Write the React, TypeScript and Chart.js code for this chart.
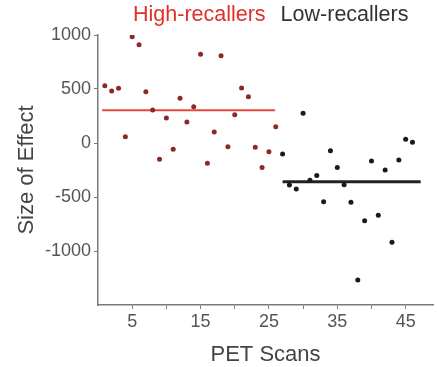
import React, { useEffect, useRef } from "react";
import { Chart, registerables } from "chart.js";

Chart.register(...registerables);

const HIGH_LABEL = "High-recallers";
const LOW_LABEL = "Low-recallers";

const HIGH_X = [1, 2, 3, 4, 5, 6, 7, 8, 9, 10, 11, 12, 13, 14, 15, 16, 17, 18, 19, 20, 21, 22, 23, 24, 25, 26];
const HIGH_Y = [530, 481, 506, 58, 984, 910, 475, 305, -151, 231, -58, 414, 194, 336, 821, -188, 102, 808, -34, 262, 509, 429, -40, -228, -80, 151];

const LOW_X = [27, 28, 29, 30, 31, 32, 33, 34, 35, 36, 37, 38, 39, 40, 41, 42, 43, 44, 45, 46];
const LOW_Y = [-102, -389, -426, 275, -346, -302, -543, -71, -228, -386, -549, -1269, -719, -167, -670, -250, -920, -157, 34, 6];

const HIGH_MEAN = 303;
const LOW_MEAN = -358;
const HIGH_MEAN_SPAN = [0.6, 25.9];
const LOW_MEAN_SPAN = [27, 47.2];

const X_TICKS = [5, 10, 15, 20, 25, 30, 35, 40, 45];
const X_TICK_LABELS = ["5", "", "15", "", "25", "", "35", "", "45"];
const Y_TICKS = [-1000, -500, 0, 500, 1000];
const Y_TICK_LABELS = ["-1000", "-500", "0", "500", "1000"];

const X_TITLE = "PET Scans";
const Y_TITLE = "Size of Effect";

const FONT = "'Liberation Sans', Arial, Helvetica, sans-serif";
const RED_TEXT = "#e0302a";
const RED_LINE = "#e8473f";
const RED_POINT = "#8a2a28";
const BLACK = "#1a1a1a";
const AXIS = "#7a7a7a";
const TEXT = "#555555";

const headerPlugin = {
  id: "header",
  afterDraw(chart: any) {
    const ctx = chart.ctx;
    ctx.save();
    ctx.font = `21.5px ${FONT}`;
    ctx.textBaseline = "middle";
    ctx.textAlign = "left";
    const y = 15;
    let x = 133;
    ctx.fillStyle = RED_TEXT;
    ctx.fillText(HIGH_LABEL, x, y);
    x += ctx.measureText(HIGH_LABEL).width + 15;
    ctx.fillStyle = "#333333";
    ctx.fillText(LOW_LABEL, x, y);
    ctx.restore();
  },
};

export default function App() {
  const ref = useRef<HTMLCanvasElement>(null);

  useEffect(() => {
    if (!ref.current) return;
    const chart = new Chart(ref.current, {
      type: "scatter",
      data: {
        datasets: [
          {
            label: HIGH_LABEL,
            data: HIGH_X.map((x, i) => ({ x, y: HIGH_Y[i] })),
            backgroundColor: RED_POINT,
            borderColor: RED_POINT,
            pointRadius: 2.5,
            pointBorderWidth: 0,
          },
          {
            label: LOW_LABEL,
            data: LOW_X.map((x, i) => ({ x, y: LOW_Y[i] })),
            backgroundColor: BLACK,
            borderColor: BLACK,
            pointRadius: 2.5,
            pointBorderWidth: 0,
          },
          {
            type: "line",
            label: "High mean",
            data: HIGH_MEAN_SPAN.map((x) => ({ x, y: HIGH_MEAN })),
            borderColor: RED_LINE,
            borderWidth: 2,
            pointRadius: 0,
            fill: false,
          } as any,
          {
            type: "line",
            label: "Low mean",
            data: LOW_MEAN_SPAN.map((x) => ({ x, y: LOW_MEAN })),
            borderColor: "#222222",
            borderWidth: 3,
            pointRadius: 0,
            fill: false,
          } as any,
        ],
      },
      options: {
        animation: false,
        responsive: false,
        layout: { padding: { left: 0, top: 35, right: 2, bottom: 0 } },
        plugins: {
          legend: { display: false },
          tooltip: { enabled: false },
        },
        scales: {
          x: {
            type: "linear",
            min: 0,
            max: 49,
            border: { display: true, color: AXIS, width: 1.5 },
            grid: { drawOnChartArea: false, drawTicks: true, tickLength: 4, color: AXIS },
            afterBuildTicks: (scale: any) => {
              scale.ticks = X_TICKS.map((v) => ({ value: v }));
            },
            afterFit: (scale: any) => {
              scale.height = 62;
            },
            ticks: {
              autoSkip: false,
              maxRotation: 0,
              color: TEXT,
              padding: 2,
              font: { family: FONT, size: 18 },
              callback: (_v: any, i: number) => X_TICK_LABELS[i],
            },
            title: {
              display: true,
              text: X_TITLE,
              color: "#444444",
              font: { family: FONT, size: 22, lineHeight: 1 },
              padding: { top: 0, bottom: 1 },
            },
          },
          y: {
            type: "linear",
            min: -1500,
            max: 1000,
            border: { display: true, color: AXIS, width: 1.5 },
            grid: { drawOnChartArea: false, drawTicks: true, tickLength: 4, color: AXIS },
            afterBuildTicks: (scale: any) => {
              scale.ticks = Y_TICKS.map((v) => ({ value: v }));
            },
            afterFit: (scale: any) => {
              scale.width = 98;
            },
            ticks: {
              autoSkip: false,
              color: TEXT,
              padding: 3,
              font: { family: FONT, size: 18 },
              callback: (_v: any, i: number) => Y_TICK_LABELS[i],
            },
            title: {
              display: true,
              text: Y_TITLE,
              color: "#444444",
              font: { family: FONT, size: 22, lineHeight: 1 },
              padding: { top: 16, bottom: 0 },
            },
          },
        },
      },
      plugins: [headerPlugin],
    });
    return () => chart.destroy();
  }, []);

  return (
    <div style={{ position: "absolute", left: 0, top: 0, width: 437, height: 367, background: "#fff" }}>
      <canvas ref={ref} width={437} height={367} />
    </div>
  );
}
